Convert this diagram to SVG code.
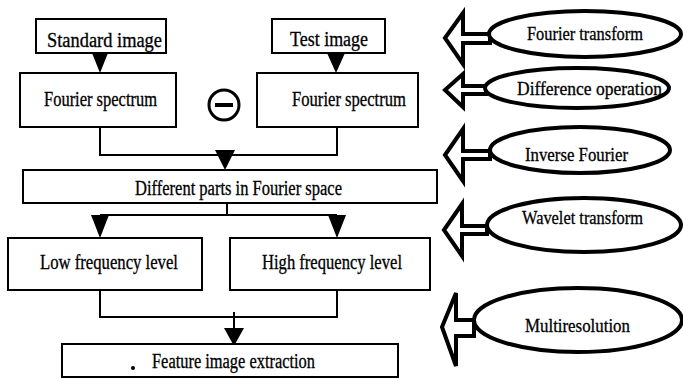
<svg xmlns="http://www.w3.org/2000/svg" width="683" height="378" viewBox="0 0 683 378">
<style>
.box{fill:#fff;stroke:#000;stroke-width:2}
.ln{fill:none;stroke:#000;stroke-width:2}
.tri{fill:#000;stroke:none}
.t{font-family:"Liberation Serif","Times New Roman",serif;font-size:20px;fill:#000;stroke:#000;stroke-width:0.3}
.e{font-size:19px}
.ell{fill:#fff;stroke:#000;stroke-width:4}
.barr{fill:#fff;stroke:#000;stroke-width:4;stroke-linejoin:miter}
</style>
<rect width="683" height="378" fill="#fff"/>
<g id="connectors">
<polygon class="tri" points="92,53 108,53 100,73"/>
<polygon class="tri" points="327,53 345,53 336,73"/>
<polyline class="ln" points="100,127 100,155 337,155 337,127"/>
<polygon class="tri" points="215,150 235,150 225,170"/>
<line class="ln" x1="227" y1="203" x2="227" y2="215"/>
<line class="ln" x1="100" y1="215" x2="337" y2="215"/>
<polygon class="tri" points="91,215 109,215 100,238"/>
<polygon class="tri" points="328,215 346,215 337,238"/>
<polyline class="ln" points="100,290 100,317 337,317 337,290"/>
<line class="ln" x1="234" y1="312" x2="234" y2="330"/>
<polygon class="tri" points="224,328 244,328 234,346"/>
</g>
<g id="standard-image">
<rect class="box" x="36" y="19" width="130" height="34"/>
<text class="t" x="47" y="47" textLength="115" lengthAdjust="spacingAndGlyphs">Standard image</text>
</g>
<g id="test-image">
<rect class="box" x="272" y="19" width="113" height="34"/>
<text class="t" x="290" y="46" textLength="78" lengthAdjust="spacingAndGlyphs">Test image</text>
</g>
<g id="fourier-left">
<rect class="box" x="20" y="73" width="156" height="54"/>
<text class="t" x="44" y="106" textLength="113" lengthAdjust="spacingAndGlyphs">Fourier spectrum</text>
</g>
<g id="minus">
<circle cx="224" cy="105" r="15" fill="#fff" stroke="#000" stroke-width="3"/>
<line x1="215" y1="105" x2="233" y2="105" stroke="#000" stroke-width="4"/>
</g>
<g id="fourier-right">
<rect class="box" x="257" y="73" width="161" height="54"/>
<text class="t" x="292" y="106" textLength="114" lengthAdjust="spacingAndGlyphs">Fourier spectrum</text>
</g>
<g id="different-parts">
<rect class="box" x="23" y="170" width="414" height="33"/>
<text class="t" x="135" y="195" textLength="207" lengthAdjust="spacingAndGlyphs">Different parts in Fourier space</text>
</g>
<g id="low-frequency">
<rect class="box" x="8" y="238" width="194" height="52"/>
<text class="t" x="40" y="269" textLength="138" lengthAdjust="spacingAndGlyphs">Low frequency level</text>
</g>
<g id="high-frequency">
<rect class="box" x="230" y="238" width="200" height="52"/>
<text class="t" x="262" y="269" textLength="140" lengthAdjust="spacingAndGlyphs">High frequency level</text>
</g>
<g id="feature-extraction">
<rect class="box" x="62" y="344" width="336" height="33"/>
<circle cx="133" cy="368" r="2" fill="#000"/>
<text class="t" x="152" y="368" textLength="163" lengthAdjust="spacingAndGlyphs">Feature image extraction</text>
</g>
<g id="fourier-transform">
<polygon class="barr" points="445,38 463,13 463,34 490,34 490,43 463,43 463,64"/>
<ellipse class="ell" cx="585" cy="34" rx="96" ry="23"/>
<text class="t e" x="527" y="40" textLength="116" lengthAdjust="spacingAndGlyphs">Fourier transform</text>
</g>
<g id="difference-operation">
<polygon class="barr" points="445,90 463,74 463,86 486,86 486,94 463,94 463,107"/>
<ellipse class="ell" cx="577" cy="88" rx="92" ry="20"/>
<text class="t e" x="517" y="95" textLength="145" lengthAdjust="spacingAndGlyphs">Difference operation</text>
</g>
<g id="inverse-fourier">
<polygon class="barr" points="445,155 463,129 463,151 490,151 490,159 463,159 463,181"/>
<ellipse class="ell" cx="580" cy="150" rx="90" ry="23"/>
<text class="t e" x="525" y="161" textLength="103" lengthAdjust="spacingAndGlyphs">Inverse Fourier</text>
</g>
<g id="wavelet-transform">
<polygon class="barr" points="444,230 462,204 462,226 487,226 487,234 462,234 462,256"/>
<ellipse class="ell" cx="584" cy="225" rx="97" ry="27"/>
<text class="t e" x="522" y="224" textLength="121" lengthAdjust="spacingAndGlyphs">Wavelet transform</text>
</g>
<g id="multiresolution">
<polygon class="barr" points="442,327 456,293 456,320 474,320 474,336 456,336 456,366"/>
<ellipse class="ell" cx="578" cy="320" rx="104" ry="32"/>
<text class="t e" x="525" y="332" textLength="105" lengthAdjust="spacingAndGlyphs">Multiresolution</text>
</g>
</svg>
